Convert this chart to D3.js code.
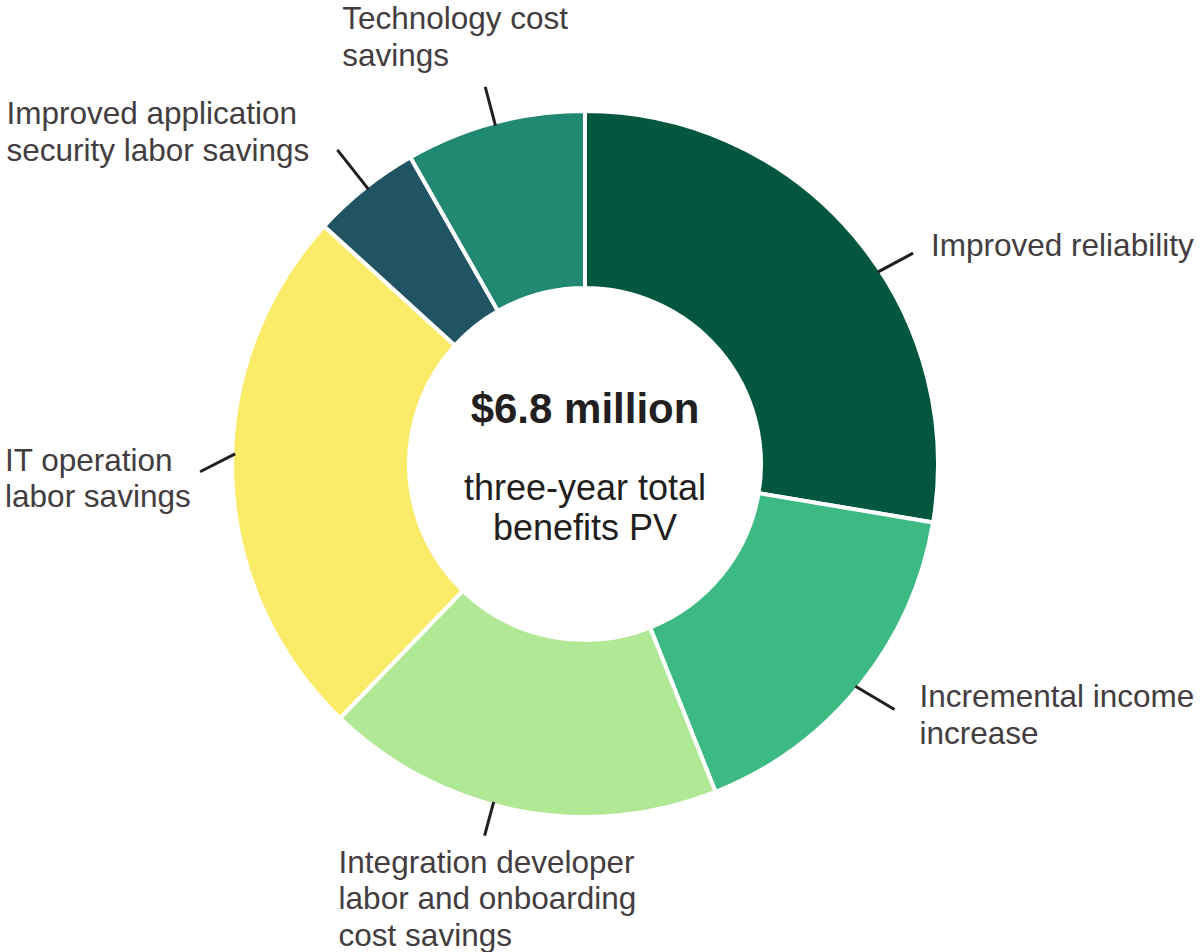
<!DOCTYPE html>
<meta charset="utf-8">
<style>
    body { margin: 0; background: #fff; }
    svg { display: block; }
    .label { font-family: "Liberation Sans", Arial, Helvetica, sans-serif; font-size: 31.5px; fill: #433d3f; }
    .center { font-family: "Liberation Sans", Arial, Helvetica, sans-serif; fill: #231f20; text-anchor: middle; }
    .leader { stroke: #231f20; stroke-width: 3; fill: none; }
</style>
<body>
<svg id="chart" width="1203" height="952"></svg>
<script src="https://d3js.org/d3.v7.min.js"></script>
<script>
    // benefit categories, in drawing order (clockwise from 12 o'clock)
    var categories = [
        "Improved reliability",
        "Incremental income increase",
        "Integration developer labor and onboarding cost savings",
        "IT operation labor savings",
        "Improved application security labor savings",
        "Technology cost savings"
    ];
    // present value, $ millions (total 6.8)
    var values = [1.88, 1.11, 1.24, 1.67, 0.34, 0.56];
    var colors = ["#03573f", "#3db984", "#b1e895", "#faeb69", "#215462", "#218872"];
    // label lines as they are broken in the chart
    var labelLines = [
        ["Improved reliability"],
        ["Incremental income", "increase"],
        ["Integration developer", "labor and onboarding", "cost savings"],
        ["IT operation", "labor savings"],
        ["Improved application", "security labor savings"],
        ["Technology cost", "savings"]
    ];
    var centerTitle = "$6.8 million";
    var centerSub = ["three-year total", "benefits PV"];

    // leader line layout: angle shift from slice middle (deg) at the ring and at the tip,
    // tip radius, and text offset from the tip
    var leaders = [
        { a0: 7, a1: 7.5, r: 390, dx: 18, dy: 3 },
        { a0: 0.5, a1: -0.5, r: 395, dx: 25, dy: -2 },
        { a0: 4, a1: 4, r: 385, dx: -146, dy: 37 },
        { a0: 3.5, a1: 0.7, r: 385, dx: -195, dy: -1 },
        { a0: 0.4, a1: 0.4, r: 400, dx: -331, dy: -26 },
        { a0: 0, a1: 0, r: 390, dx: -143, dy: -58 }
    ];

    var cx = 585, cy = 464,
        outer = 353, inner = 176,
        lineH = 36.7;

    var svg = d3.select("#chart");
    var g = svg.append("g").attr("transform", "translate(" + cx + "," + cy + ")");

    var pie = d3.pie().sort(null).value(function(d) { return d; });
    var arc = d3.arc().innerRadius(inner).outerRadius(outer);
    var arcs = pie(values);

    g.selectAll("path.slice")
        .data(arcs)
        .enter().append("path")
        .attr("class", "slice")
        .attr("d", arc)
        .attr("fill", function(d, i) { return colors[i]; })
        .attr("stroke", "#fff")
        .attr("stroke-width", 4);

    function pt(angleDeg, r) {
        var a = angleDeg * Math.PI / 180;
        return [Math.sin(a) * r, -Math.cos(a) * r];
    }

    arcs.forEach(function(d, i) {
        var mid = (d.startAngle + d.endAngle) / 2 * 180 / Math.PI;
        var L = leaders[i];
        var p0 = pt(mid + L.a0, outer - 3);
        var p1 = pt(mid + L.a1, L.r);
        g.append("line")
            .attr("class", "leader")
            .attr("x1", p0[0]).attr("y1", p0[1])
            .attr("x2", p1[0]).attr("y2", p1[1]);

        var t = g.append("text")
            .attr("class", "label")
            .attr("x", p1[0] + L.dx)
            .attr("y", p1[1] + L.dy);
        labelLines[i].forEach(function(s, j) {
            t.append("tspan")
                .attr("x", p1[0] + L.dx)
                .attr("dy", j === 0 ? 0 : lineH)
                .text(s);
        });
    });

    g.append("text")
        .attr("class", "center")
        .attr("y", -41)
        .style("font-size", "42px")
        .style("font-weight", "bold")
        .text(centerTitle);

    var sub = g.append("text")
        .attr("class", "center")
        .attr("y", 36)
        .style("font-size", "36px");
    centerSub.forEach(function(s, j) {
        sub.append("tspan").attr("x", 0).attr("dy", j === 0 ? 0 : 40).text(s);
    });
</script>
</body>
